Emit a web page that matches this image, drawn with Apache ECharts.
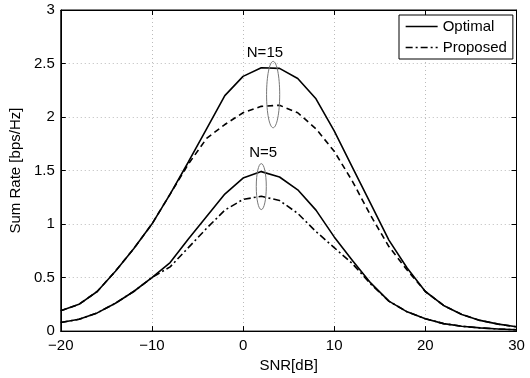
<!DOCTYPE html>
<html>
<head>
<meta charset="utf-8">
<script src="https://cdn.jsdelivr.net/npm/echarts@6/dist/echarts.min.js"></script>
<style>html,body{margin:0;padding:0;background:#fff}#c{width:530px;height:378px}</style>
</head>
<body>
<div id="c"></div>
<script>
var snr = [-20,-18,-16,-14,-12,-10,-8,-6,-4,-2,0,2,4,6,8,10,12,14,16,18,20,22,24,26,28,30];
var optimalN15 = [0.19,0.25,0.37,0.56,0.77,1.00,1.28,1.58,1.89,2.20,2.38,2.46,2.455,2.36,2.17,1.87,1.53,1.19,0.85,0.59,0.37,0.24,0.155,0.10,0.065,0.04];
var proposedN15 = [0.19,0.25,0.37,0.56,0.77,1.00,1.28,1.56,1.80,1.93,2.04,2.10,2.11,2.04,1.89,1.68,1.40,1.08,0.79,0.57,0.37,0.24,0.155,0.10,0.065,0.04];
var optimalN5 = [0.08,0.11,0.17,0.26,0.37,0.50,0.64,0.86,1.07,1.28,1.43,1.49,1.44,1.32,1.13,0.88,0.66,0.45,0.28,0.18,0.115,0.07,0.045,0.03,0.02,0.012];
var proposedN5 = [0.08,0.11,0.17,0.26,0.37,0.50,0.60,0.78,0.96,1.13,1.23,1.26,1.22,1.10,0.93,0.78,0.63,0.44,0.28,0.18,0.115,0.07,0.045,0.03,0.02,0.012];
var legendNames = ['Optimal','Proposed'];
var xLabel = 'SNR[dB]';
var yLabel = 'Sum Rate [bps/Hz]';
var annotations = [
  {text:'N=15', tx:2.4, ty:2.60, ex:3.3, ey:2.21, erx:0.72, ery:0.31},
  {text:'N=5', tx:2.2, ty:1.665, ex:2.0, ey:1.35, erx:0.55, ery:0.215}
];

function pairs(ys){ return snr.map(function(x,i){ return [x, ys[i]]; }); }
var FONT = '"Liberation Sans", Arial, sans-serif';
var chart = echarts.init(document.getElementById('c'), null, {renderer:'canvas'});
function mkSeries(name, ys, type){
  return {name:name, type:'line', data:pairs(ys), symbol:'none', smooth:false, animation:false,
    lineStyle:{color:'#000', width:1.6, type:type}, itemStyle:{color:'#000'}, z:3};
}
var fmtMinus = function(v){ return String(v).replace('-', '\u2212'); };
var option = {
  animation:false,
  backgroundColor:'#fff',
  grid:{left:58, top:10, right:13.5, bottom:41.5, show:true, borderColor:'#000', borderWidth:1},
  legend:{
    data:legendNames, orient:'vertical', left:399, top:15, padding:[4,6,4,6],
    itemWidth:32, itemHeight:14, itemGap:6, borderColor:'#000', borderWidth:1, backgroundColor:'#fff',
    itemStyle:{opacity:0},
    lineStyle:{width:1.3},
    textStyle:{fontFamily:FONT, fontSize:15, color:'#000', lineHeight:15}
  },
  xAxis:[{
    type:'value', min:-20, max:30, interval:10, position:'bottom',
    name:xLabel, nameLocation:'middle', nameGap:21,
    nameTextStyle:{fontFamily:FONT, fontSize:15, color:'#000'},
    axisLine:{show:true, onZero:false, lineStyle:{color:'#000', width:1}},
    axisTick:{show:true, inside:true, length:5, lineStyle:{color:'#000'}},
    axisLabel:{fontFamily:FONT, fontSize:15, color:'#000', margin:7, formatter:fmtMinus},
    splitLine:{show:true, lineStyle:{color:'#bbb', type:[1,3], width:1}}
  },{
    type:'value', min:-20, max:30, interval:10, position:'top',
    axisLine:{show:true, onZero:false, lineStyle:{color:'#000'}},
    axisTick:{show:true, inside:true, length:5, lineStyle:{color:'#000'}},
    axisLabel:{show:false}, splitLine:{show:false}
  }],
  yAxis:[{
    type:'value', min:0, max:3, interval:0.5, position:'left',
    name:yLabel, nameLocation:'middle', nameGap:31, nameRotate:90,
    nameTextStyle:{fontFamily:FONT, fontSize:15, color:'#000'},
    axisLine:{show:true, onZero:false, lineStyle:{color:'#000', width:1}},
    axisTick:{show:true, inside:true, length:5, lineStyle:{color:'#000'}},
    axisLabel:{fontFamily:FONT, fontSize:15, color:'#000', margin:6},
    splitLine:{show:true, lineStyle:{color:'#bbb', type:[1,3], width:1}}
  },{
    type:'value', min:0, max:3, interval:0.5, position:'right',
    axisLine:{show:true, onZero:false, lineStyle:{color:'#000'}},
    axisTick:{show:true, inside:true, length:5, lineStyle:{color:'#000'}},
    axisLabel:{show:false}, splitLine:{show:false}
  }],
  series:[
    mkSeries('Optimal', optimalN15, 'solid'),
    mkSeries('Proposed', proposedN5, [7,3,2,3]),
    mkSeries('Proposed', proposedN15, [6,4]),
    mkSeries('Optimal', optimalN5, 'solid')
  ]
};
chart.setOption(option);

var els = [];
annotations.forEach(function(a){
  var t = chart.convertToPixel({xAxisIndex:0, yAxisIndex:0}, [a.tx, a.ty]);
  var c = chart.convertToPixel({xAxisIndex:0, yAxisIndex:0}, [a.ex, a.ey]);
  var r = chart.convertToPixel({xAxisIndex:0, yAxisIndex:0}, [a.ex + a.erx, a.ey + a.ery]);
  els.push({type:'text', x:t[0], y:t[1], z:10,
    style:{text:a.text, fill:'#000', font:'15px ' + FONT, textAlign:'center', textVerticalAlign:'middle'}});
  els.push({type:'ellipse', z:10,
    shape:{cx:c[0], cy:c[1], rx:Math.abs(r[0]-c[0]), ry:Math.abs(c[1]-r[1])},
    style:{fill:'none', stroke:'#777', lineWidth:1}});
});
chart.setOption({graphic:{elements:els}});
</script>
</body>
</html>
